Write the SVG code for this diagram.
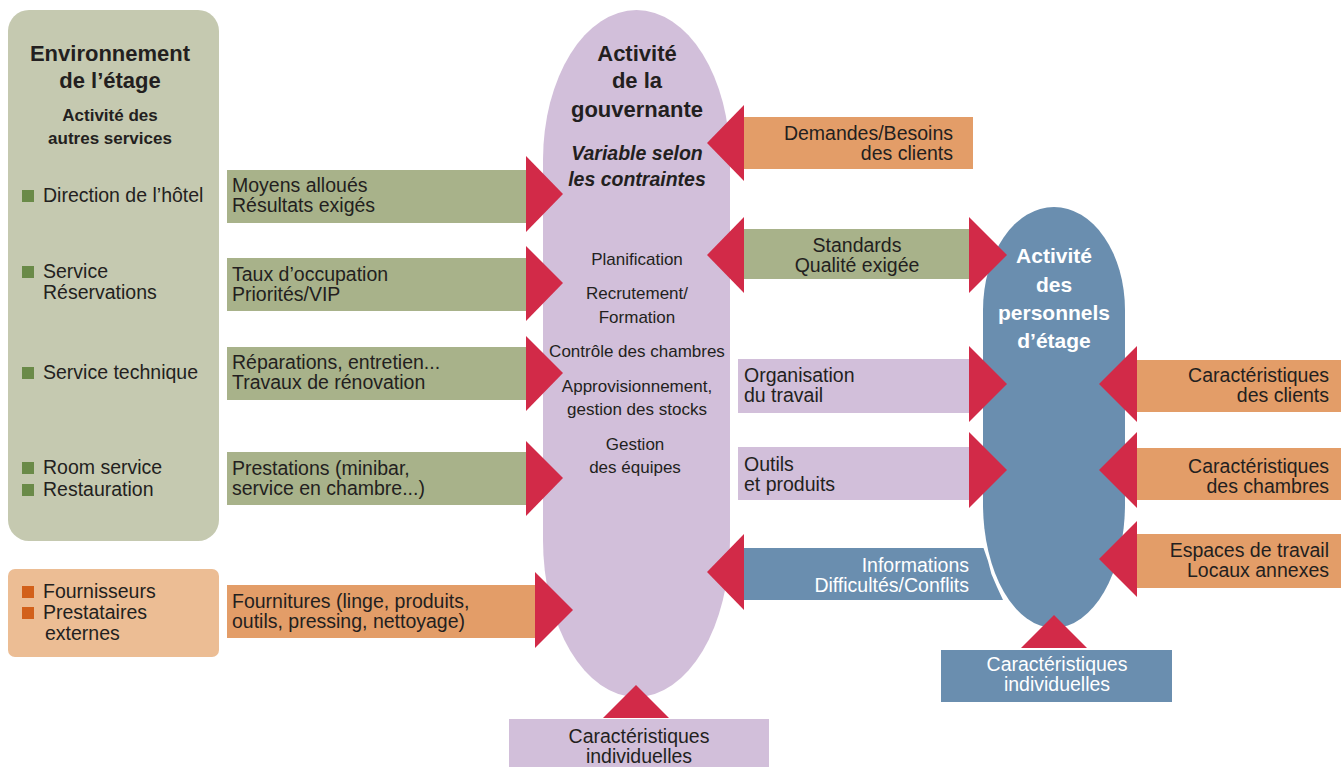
<svg xmlns="http://www.w3.org/2000/svg" width="1344" height="767" viewBox="0 0 1344 767">
<style>
text{font-family:"Liberation Sans",Arial,sans-serif;fill:#231f20}
.t{font-size:19.5px}
.s{font-size:17px}
.b{font-weight:bold}
.m{text-anchor:middle}
.e{text-anchor:end}
.w{fill:#ffffff}
.tri{fill:#d22a48}
.green{fill:#a8b28a}
.orange{fill:#e39d68}
.purple{fill:#d2bfda}
.blue{fill:#6a8eaf}
.sqg{fill:#6a8a48}
.sqo{fill:#d2601a}
</style>
<rect width="1344" height="767" fill="#ffffff"/>
<g id="node-environnement">
<rect x="8" y="10" width="211" height="531" rx="21" fill="#c5c9b0"/>
<text class="b m" x="110" y="61" font-size="22">Environnement</text>
<text class="b m" x="110" y="88" font-size="22">de l’étage</text>
<text class="b m" x="110" y="121" font-size="17">Activité des</text>
<text class="b m" x="110" y="144" font-size="17">autres services</text>
<rect class="sqg" x="22" y="190" width="12" height="12"/>
<text class="t" x="43" y="202" font-size="20.3">Direction de l’hôtel</text>
<rect class="sqg" x="22" y="266" width="12" height="12"/>
<text class="t" x="43" y="278">Service</text>
<text class="t" x="43" y="299">Réservations</text>
<rect class="sqg" x="22" y="367" width="12" height="12"/>
<text class="t" x="43" y="379">Service technique</text>
<rect class="sqg" x="22" y="462" width="12" height="12"/>
<text class="t" x="43" y="474">Room service</text>
<rect class="sqg" x="22" y="484" width="12" height="12"/>
<text class="t" x="43" y="496">Restauration</text>
</g>
<g id="node-fournisseurs">
<rect x="8" y="569" width="211" height="88" rx="7" fill="#ecbd94"/>
<rect class="sqo" x="22" y="586" width="12" height="12"/>
<text class="t" x="43" y="598">Fournisseurs</text>
<rect class="sqo" x="22" y="607" width="12" height="12"/>
<text class="t" x="43" y="619">Prestataires</text>
<text class="t" x="45" y="640">externes</text>
</g>
<g id="node-gouvernante">
<path class="purple" d="M543,160 A93.5,150 0 0 1 730,160 L730,540 A93.5,157 0 0 1 543,540 Z"/>
<text class="b m" x="637" y="61" font-size="22">Activité</text>
<text class="b m" x="637" y="88" font-size="22">de la</text>
<text class="b m" x="637" y="117" font-size="22">gouvernante</text>
<text class="b m" x="637" y="160" font-size="19.5" font-style="italic">Variable selon</text>
<text class="b m" x="637" y="186" font-size="19.5" font-style="italic">les contraintes</text>
<text class="s m" x="637" y="265">Planification</text>
<text class="s m" x="637" y="299">Recrutement/</text>
<text class="s m" x="637" y="323">Formation</text>
<text class="s m" x="637" y="357">Contrôle des chambres</text>
<text class="s m" x="637" y="392">Approvisionnement,</text>
<text class="s m" x="637" y="415">gestion des stocks</text>
<text class="s m" x="635" y="450">Gestion</text>
<text class="s m" x="635" y="473">des équipes</text>
</g>
<g id="node-caract-gouvernante">
<rect class="purple" x="509" y="719" width="260" height="48"/>
<text class="t m" x="639" y="743">Caractéristiques</text>
<text class="t m" x="639" y="763">individuelles</text>
</g>
<g id="node-personnels">
<path class="blue" d="M983,310 A71,103 0 0 1 1125,310 L1125,504 A71,124 0 0 1 983,504 Z"/>
<text class="b m w" x="1054" y="263" font-size="21">Activité</text>
<text class="b m w" x="1054" y="292" font-size="21">des</text>
<text class="b m w" x="1054" y="320" font-size="21">personnels</text>
<text class="b m w" x="1054" y="348" font-size="21">d’étage</text>
</g>
<g id="node-caract-personnels">
<rect class="blue" x="941" y="650" width="231" height="52"/>
<text class="t m w" x="1057" y="671">Caractéristiques</text>
<text class="t m w" x="1057" y="691">individuelles</text>
</g>
<g id="node-caract-clients">
<rect class="orange" x="1137" y="360" width="204" height="52"/>
<text class="t e" x="1329" y="382">Caractéristiques</text>
<text class="t e" x="1329" y="402">des clients</text>
</g>
<g id="node-caract-chambres">
<rect class="orange" x="1137" y="448" width="204" height="52"/>
<text class="t e" x="1329" y="473">Caractéristiques</text>
<text class="t e" x="1329" y="493">des chambres</text>
</g>
<g id="node-espaces">
<rect class="orange" x="1137" y="534" width="204" height="54"/>
<text class="t e" x="1329" y="557">Espaces de travail</text>
<text class="t e" x="1329" y="577">Locaux annexes</text>
</g>
<g id="node-demandes">
<rect class="orange" x="744" y="117" width="229" height="52"/>
<text class="t e" x="953" y="140">Demandes/Besoins</text>
<text class="t e" x="953" y="160">des clients</text>
</g>
<g id="connectors">
<rect class="green" x="227" y="170" width="299" height="53"/>
<text class="t" x="232" y="192">Moyens alloués</text>
<text class="t" x="232" y="212">Résultats exigés</text>
<rect class="green" x="227" y="258" width="299" height="53"/>
<text class="t" x="232" y="281">Taux d’occupation</text>
<text class="t" x="232" y="301">Priorités/VIP</text>
<rect class="green" x="227" y="347" width="299" height="53"/>
<text class="t" x="232" y="369">Réparations, entretien...</text>
<text class="t" x="232" y="389">Travaux de rénovation</text>
<rect class="green" x="227" y="452" width="299" height="53"/>
<text class="t" x="232" y="475">Prestations (minibar,</text>
<text class="t" x="232" y="495">service en chambre...)</text>
<rect class="orange" x="227" y="585" width="308" height="53"/>
<text class="t" x="232" y="608">Fournitures (linge, produits,</text>
<text class="t" x="232" y="628">outils, pressing, nettoyage)</text>
<rect class="green" x="744" y="229" width="225" height="50"/>
<text class="t m" x="857" y="252">Standards</text>
<text class="t m" x="857" y="272">Qualité exigée</text>
<rect class="purple" x="738" y="359" width="231" height="54"/>
<text class="t" x="744" y="382">Organisation</text>
<text class="t" x="744" y="402">du travail</text>
<rect class="purple" x="738" y="447" width="231" height="53"/>
<text class="t" x="744" y="471">Outils</text>
<text class="t" x="744" y="491">et produits</text>
<path class="blue" d="M744,548 L983.5,548 L988,561 L991.4,574 L997,587 L1003,600 L744,600 Z"/>
<text class="t e w" x="969" y="572">Informations</text>
<text class="t e w" x="969" y="592">Difficultés/Conflits</text>
<polygon class="tri" points="526,156 563,194 526,232"/>
<polygon class="tri" points="526,246 563,283 526,321"/>
<polygon class="tri" points="526,336 563,373 526,411"/>
<polygon class="tri" points="526,441 563,478 526,516"/>
<polygon class="tri" points="535,572 573,610 535,648"/>
<polygon class="tri" points="969,217 1007,255 969,293"/>
<polygon class="tri" points="969,346 1007,384 969,422"/>
<polygon class="tri" points="969,432 1007,470 969,508"/>
<polygon class="tri" points="744,105 707,143 744,181"/>
<polygon class="tri" points="744,217 707,255 744,293"/>
<polygon class="tri" points="744,534 707,572 744,610"/>
<polygon class="tri" points="1137,346 1099,384 1137,422"/>
<polygon class="tri" points="1137,432 1099,470 1137,508"/>
<polygon class="tri" points="1137,521 1099,559 1137,597"/>
<polygon class="tri" points="603,718 636,685 669,718"/>
<polygon class="tri" points="1021,648 1054,615 1087,648"/>
</g>
</svg>
